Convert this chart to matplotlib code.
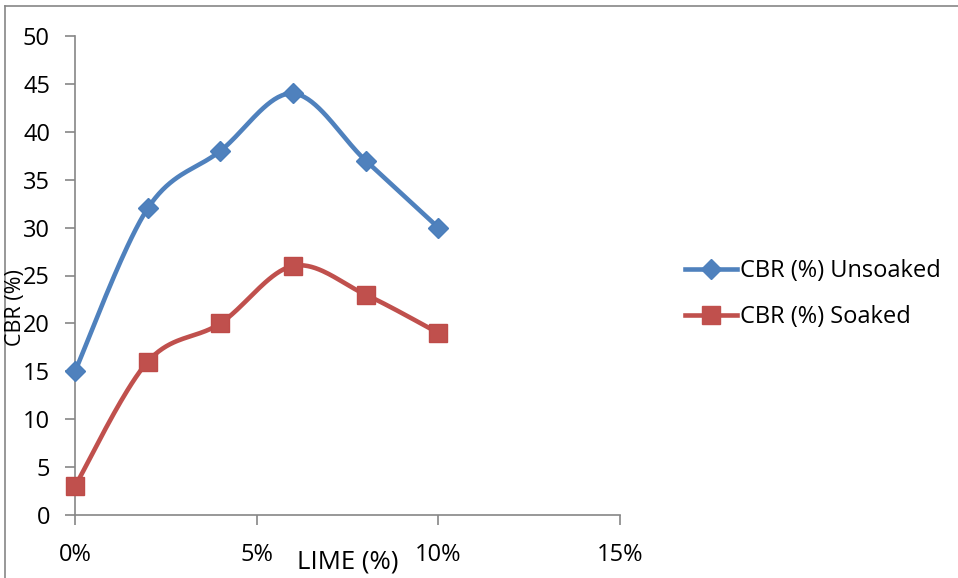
import numpy as np
import matplotlib.pyplot as plt
from matplotlib.ticker import FuncFormatter

# --- data ---
lime = np.array([0.00, 0.02, 0.04, 0.06, 0.08, 0.10])
cbr_unsoaked = np.array([15, 32, 38, 44, 37, 30])
cbr_soaked = np.array([3, 16, 20, 26, 23, 19])

plt.rcParams['font.family'] = ['Open Sans', 'DejaVu Sans']

W, H = 958, 578
fig = plt.figure(figsize=(W / 100, H / 100), dpi=100)
ax = fig.add_axes([75 / W, 1 - 515 / H, (620 - 75) / W, (515 - 36) / H])

xmax, ymax = 0.15, 50
sx, sy = 545 / xmax, 479 / ymax  # pixels per data unit, for screen-space smoothing


def smooth(x, y, n=40):
    # Excel-style smoothed line (cardinal Bezier, 1/6 tangents), done in pixel space
    px, py = x * sx, y * sy
    P = np.column_stack([px, py])
    out = []
    for i in range(len(P) - 1):
        p0 = P[max(i - 1, 0)]
        p1 = P[i]
        p2 = P[i + 1]
        p3 = P[min(i + 2, len(P) - 1)]
        c1 = p1 + (p2 - p0) / 6
        c2 = p2 - (p3 - p1) / 6
        t = np.linspace(0, 1, n)[:, None]
        seg = (1 - t) ** 3 * p1 + 3 * (1 - t) ** 2 * t * c1 + 3 * (1 - t) * t ** 2 * c2 + t ** 3 * p2
        out.append(seg if i == 0 else seg[1:])
    out = np.vstack(out)
    return out[:, 0] / sx, out[:, 1] / sy


blue = '#4F81BD'
red = '#C0504D'

xs, ys = smooth(lime, cbr_unsoaked)
ax.plot(xs, ys, color=blue, lw=3.3, solid_capstyle='round', zorder=3, clip_on=False)
ax.plot(lime, cbr_unsoaked, ls='none', marker='D', ms=10.5, color=blue,
        mec='#4A7EBB', mew=1, zorder=4, clip_on=False)
xs, ys = smooth(lime, cbr_soaked)
ax.plot(xs, ys, color=red, lw=3.3, solid_capstyle='round', zorder=3, clip_on=False)
ax.plot(lime, cbr_soaked, ls='none', marker='s', ms=13.5, color=red,
        mec='#BE4B48', mew=1, zorder=4, clip_on=False)

# legend proxies
ax.plot([], [], color=blue, lw=3.3, marker='D', ms=10.5, label='CBR (%) Unsoaked')
ax.plot([], [], color=red, lw=3.3, marker='s', ms=13.5, label='CBR (%) Soaked')
leg = fig.legend(loc='center left', bbox_to_anchor=(685 / W, 1 - 294 / H),
                 frameon=False, fontsize=17, handlelength=2.2, borderpad=0,
                 borderaxespad=0, handletextpad=0.15, labelspacing=0.95)

ax.set_xlim(0, xmax)
ax.set_ylim(0, ymax)
ax.set_xticks([0, 0.05, 0.10, 0.15])
ax.xaxis.set_major_formatter(FuncFormatter(lambda v, p: f'{v * 100:.0f}%'))
ax.set_yticks(np.arange(0, 51, 5))

for s in ['top', 'right']:
    ax.spines[s].set_visible(False)
for s in ['left', 'bottom']:
    ax.spines[s].set_color('#868686')
    ax.spines[s].set_linewidth(1.2)
ax.tick_params(colors='#868686', labelcolor='black', length=7, width=1.2,
               labelsize=17)
ax.tick_params(axis='x', pad=13)
ax.tick_params(axis='y', pad=11)

fig.text(348 / W, 1 - 562 / H, 'LIME (%)', ha='center', va='center', fontsize=18.5)
fig.text(16 / W, 1 - 308 / H, 'CBR (%)', ha='center', va='center',
         rotation=90, fontsize=15.5)

# outer chart frame (only left/top edges show in the reference)
fig.add_artist(plt.Line2D([5 / W, 5 / W], [0, 1 - 6 / H], transform=fig.transFigure,
                          color='#868686', lw=1.2))
fig.add_artist(plt.Line2D([5 / W, 1], [1 - 6 / H, 1 - 6 / H], transform=fig.transFigure,
                          color='#868686', lw=1.2))

fig.savefig('out.png', dpi=100)
